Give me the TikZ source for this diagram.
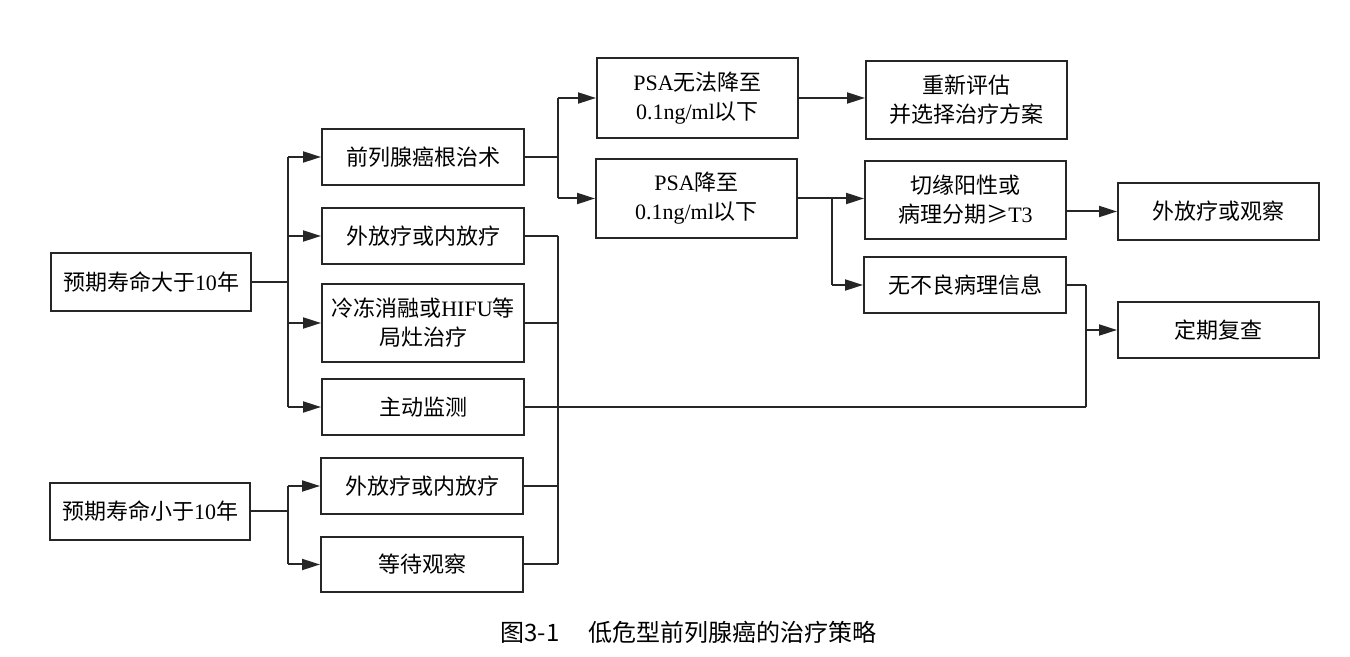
\documentclass[tikz,border=0pt]{standalone}
\usepackage{fontspec}
\setmainfont{Liberation Serif}
\newfontfamily\cjkfont{Noto Sans CJK SC}
\newcommand\zht[1]{{\cjkfont #1}}
\usetikzlibrary{arrows.meta}
\begin{document}
\begin{tikzpicture}[x=0.5pt,y=-0.5pt,
  box/.style={draw=black!85, line width=1pt, inner sep=0pt, align=center,
    font=\fontsize{11}{14.5}\selectfont, minimum width=101pt},
  ln/.style={draw=black!85, line width=1pt},
  arr/.style={ln, -{Triangle[length=9pt,width=5.5pt]}}]
\useasboundingbox[fill=white] (0,0) rectangle (1350,657);
% left column
\node[box, minimum width=100pt, minimum height=29pt] (big) at (151,282) {\zht{预期寿命大于}10\zht{年}};
\node[box, minimum width=100pt, minimum height=28.5pt] (small) at (150,511.5) {\zht{预期寿命小于}10\zht{年}};
% middle column
\node[box, minimum height=28pt] (surg) at (423,157) {\zht{前列腺癌根治术}};
\node[box, minimum height=28pt] (rad1) at (423,236) {\zht{外放疗或内放疗}};
\node[box, minimum height=39pt] (cryo) at (423,323) {\zht{冷冻消融或}HIFU\zht{等}\\\zht{局灶治疗}};
\node[box, minimum height=28pt] (as) at (423,407) {\zht{主动监测}};
\node[box, minimum height=28pt] (rad2) at (422,486) {\zht{外放疗或内放疗}};
\node[box, minimum height=27.5pt] (wait) at (422,564.5) {\zht{等待观察}};
% PSA column
\node[box, minimum width=100.5pt, minimum height=40pt] (psano) at (697.5,98) {PSA\zht{无法降至}\\0.1ng/ml\zht{以下}};
\node[box, minimum width=100.5pt, minimum height=39.5pt] (psayes) at (696.5,198.5) {PSA\zht{降至}\\0.1ng/ml\zht{以下}};
% fourth column
\node[box, minimum width=100.5pt, minimum height=39pt] (reeval) at (966.5,100) {\zht{重新评估}\\\zht{并选择治疗方案}};
\node[box, minimum width=100.5pt, minimum height=39pt] (margin) at (965.5,200) {\zht{切缘阳性或}\\\zht{病理分期≥}T3};
\node[box, minimum width=101pt, minimum height=28pt] (noadv) at (965,285) {\zht{无不良病理信息}};
% last column
\node[box, minimum width=100.5pt, minimum height=28.5pt] (extobs) at (1218.5,211.5) {\zht{外放疗或观察}};
\node[box, minimum width=100.5pt, minimum height=28pt] (follow) at (1218.5,330) {\zht{定期复查}};
% caption
\node[font=\cjkfont\fontsize{12}{14}\selectfont, anchor=west, inner sep=0pt] (cap) at (500,632) {图3-1\hspace{1.2em}低危型前列腺癌的治疗策略};
% junction columns
\coordinate (c1) at (288,0);
\coordinate (c2) at (558,0);
\coordinate (c3) at (832,0);
\coordinate (c4) at (1086,0);
% big -> middle
\draw[ln] (big.east) -- (c1 |- big.east);
\draw[ln] (c1 |- surg) -- (c1 |- as);
\draw[arr] (c1 |- surg) -- (surg.west);
\draw[arr] (c1 |- rad1) -- (rad1.west);
\draw[arr] (c1 |- cryo) -- (cryo.west);
\draw[arr] (c1 |- as) -- (as.west);
% small -> middle
\draw[ln] (small.east) -- (c1 |- small.east);
\draw[ln] (c1 |- rad2) -- (c1 |- wait);
\draw[arr] (c1 |- rad2) -- (rad2.west);
\draw[arr] (c1 |- wait) -- (wait.west);
% surgery -> PSA
\draw[ln] (surg.east) -- (c2 |- surg.east);
\draw[ln] (c2 |- psano) -- (c2 |- psayes);
\draw[arr] (c2 |- psano) -- (psano.west);
\draw[arr] (c2 |- psayes) -- (psayes.west);
% PSA -> fourth column
\draw[arr] (psano.east) -- (psano.east -| reeval.west);
\draw[ln] (psayes.east) -- (c3 |- psayes.east);
\draw[ln] (c3 |- psayes.east) -- (c3 |- noadv);
\draw[arr] (c3 |- psayes.east) -- (psayes.east -| margin.west);
\draw[arr] (c3 |- noadv) -- (noadv.west);
\draw[arr] (margin.east |- extobs) -- (extobs.west);
% merge to follow-up
\draw[ln] (rad1.east) -- (c2 |- rad1.east);
\draw[ln] (cryo.east) -- (c2 |- cryo.east);
\draw[ln] (rad2.east) -- (c2 |- rad2.east);
\draw[ln] (wait.east) -- (c2 |- wait.east);
\draw[ln] (c2 |- rad1.east) -- (c2 |- wait.east);
\draw[ln] (as.east) -- (c4 |- as.east);
\draw[ln] (noadv.east) -- (c4 |- noadv.east);
\draw[ln] (c4 |- noadv.east) -- (c4 |- as.east);
\draw[arr] (c4 |- follow) -- (follow.west);
\end{tikzpicture}
\end{document}
